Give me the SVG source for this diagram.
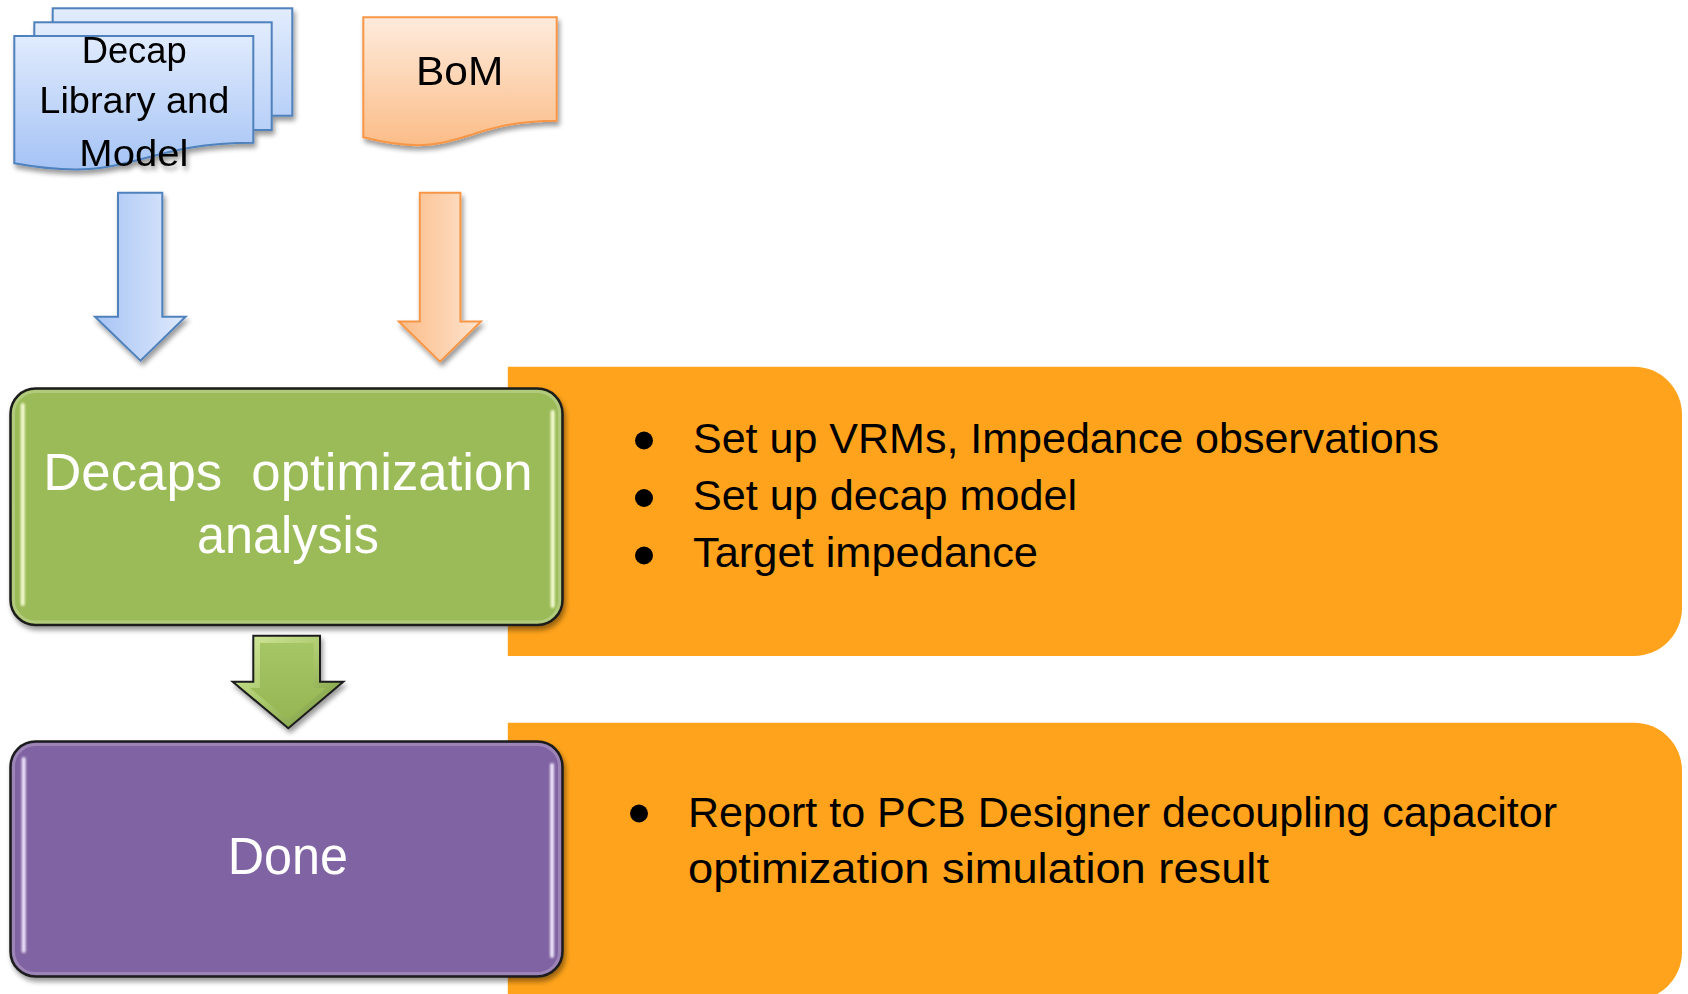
<svg xmlns="http://www.w3.org/2000/svg" width="1688" height="994" viewBox="0 0 1688 994">
  <defs>
    <style>
      .label { font-family: "Liberation Sans", Arial, sans-serif; }
      .dark { fill: #000000; }
      .light { fill: #ffffff; }
      .doc-blue { stroke: #4f81bd; stroke-width: 2; }
      .doc-peach { stroke: #f79646; stroke-width: 2; }
      .panel { fill: #fea31b; }
      .box-edge { stroke: #1b1b1b; stroke-width: 2.5; }
      .rim { fill: none; stroke: #ffffff; stroke-opacity: 0.22; stroke-width: 3; }
    </style>
    <linearGradient id="gBlueFront" x1="0" y1="0" x2="0" y2="1">
      <stop offset="0" stop-color="#e0ebfd"/>
      <stop offset="1" stop-color="#a5c3f5"/>
    </linearGradient>
    <linearGradient id="gBlueBack" x1="0" y1="0" x2="0" y2="1">
      <stop offset="0" stop-color="#e2ecfd"/>
      <stop offset="1" stop-color="#b8d0f8"/>
    </linearGradient>
    <linearGradient id="gPeach" x1="0" y1="0" x2="0" y2="1">
      <stop offset="0" stop-color="#feebdd"/>
      <stop offset="1" stop-color="#fbbd88"/>
    </linearGradient>
    <linearGradient id="gBlueArrow" x1="0" y1="0" x2="1" y2="0">
      <stop offset="0" stop-color="#a7c4f5"/>
      <stop offset="1" stop-color="#dfe9fc"/>
    </linearGradient>
    <linearGradient id="gPeachArrow" x1="0" y1="0" x2="1" y2="0">
      <stop offset="0" stop-color="#fbbc88"/>
      <stop offset="1" stop-color="#fee4cf"/>
    </linearGradient>
    <linearGradient id="gGreenBevel" x1="0" y1="0" x2="1" y2="1">
      <stop offset="0" stop-color="#d6eaa0"/>
      <stop offset="0.5" stop-color="#a9c86a"/>
      <stop offset="1" stop-color="#728f3a"/>
    </linearGradient>
    <linearGradient id="gGreenFace" x1="0" y1="0" x2="0" y2="1">
      <stop offset="0" stop-color="#a6c565"/>
      <stop offset="1" stop-color="#96b654"/>
    </linearGradient>
    <filter id="shadow" x="-10%" y="-10%" width="125%" height="135%">
      <feGaussianBlur in="SourceAlpha" stdDeviation="2.5"/>
      <feOffset dx="1.5" dy="3.5" result="off"/>
      <feComponentTransfer><feFuncA type="linear" slope="0.4"/></feComponentTransfer>
      <feMerge><feMergeNode/><feMergeNode in="SourceGraphic"/></feMerge>
    </filter>
    <filter id="glow" x="-200%" y="-5%" width="500%" height="110%">
      <feGaussianBlur stdDeviation="0.9"/>
    </filter>
  </defs>

  <rect width="1688" height="994" fill="#ffffff"/>

  <!-- task panels sit behind the process boxes -->
  <g id="tasks-optimization">
    <path class="panel" d="M507.8,366.7 H1634 A48,48 0 0 1 1682,414.7 V608 A48,48 0 0 1 1634,656 H507.8 Z"/>
    <circle class="dark" cx="644" cy="440.5" r="9"/>
    <circle class="dark" cx="644" cy="498" r="9"/>
    <circle class="dark" cx="644" cy="555.5" r="9"/>
    <text class="label dark" x="693" y="452.5" font-size="42" textLength="746" lengthAdjust="spacingAndGlyphs">Set up VRMs, Impedance observations</text>
    <text class="label dark" x="693" y="509.5" font-size="42" textLength="384" lengthAdjust="spacingAndGlyphs">Set up decap model</text>
    <text class="label dark" x="693" y="566.7" font-size="42" textLength="345" lengthAdjust="spacingAndGlyphs">Target impedance</text>
  </g>

  <g id="tasks-done">
    <path class="panel" d="M507.8,722.7 H1634 A48,48 0 0 1 1682,770.7 V952 A48,48 0 0 1 1634,1000 H507.8 Z"/>
    <circle class="dark" cx="639" cy="813.5" r="9"/>
    <text class="label dark" x="688" y="827" font-size="42" textLength="869" lengthAdjust="spacingAndGlyphs">Report to PCB Designer decoupling capacitor</text>
    <text class="label dark" x="688" y="883" font-size="42" textLength="581" lengthAdjust="spacingAndGlyphs">optimization simulation result</text>
  </g>

  <!-- input documents -->
  <g id="decap-library" filter="url(#shadow)">
    <rect class="doc-blue" x="52.7" y="8.3" width="239.6" height="107.4" fill="url(#gBlueBack)"/>
    <rect class="doc-blue" x="34.3" y="22.3" width="237.4" height="107.7" fill="url(#gBlueBack)"/>
    <path class="doc-blue" fill="url(#gBlueFront)" d="M14.3,36 H253.3 V142.7 C134,142.7 134,185 14.3,163.3 Z"/>
    <text class="label dark" x="81.7" y="62.7" font-size="36" textLength="105" lengthAdjust="spacingAndGlyphs">Decap</text>
    <text class="label dark" x="39.3" y="112.7" font-size="36" textLength="190" lengthAdjust="spacingAndGlyphs">Library and</text>
    <text class="label dark" x="79.3" y="165.7" font-size="36" textLength="109" lengthAdjust="spacingAndGlyphs">Model</text>
  </g>

  <g id="bom" filter="url(#shadow)">
    <path class="doc-peach" fill="url(#gPeach)" d="M363.3,17.3 H556.7 V120.7 C460,120.7 460,162 363.3,137.3 Z"/>
    <text class="label dark" x="416" y="85" font-size="41" textLength="87.3" lengthAdjust="spacingAndGlyphs">BoM</text>
  </g>

  <!-- process boxes -->
  <g id="optimization">
    <rect class="box-edge" x="10.5" y="388.5" width="552" height="236.5" rx="25" fill="#9bbb59" filter="url(#shadow)"/>
    <rect class="rim" x="13.5" y="391.5" width="546" height="230.5" rx="22"/>
    <rect x="20.7" y="403" width="4" height="203" rx="2" fill="#f4fbd2" filter="url(#glow)"/>
    <rect x="550.7" y="410" width="4" height="198" rx="2" fill="#f4fbd2" filter="url(#glow)"/>
    <text class="label light" x="43.3" y="490" font-size="51" textLength="489.4" lengthAdjust="spacingAndGlyphs" xml:space="preserve">Decaps  optimization</text>
    <text class="label light" x="197" y="553.3" font-size="51" textLength="182" lengthAdjust="spacingAndGlyphs">analysis</text>
  </g>

  <g id="done">
    <rect class="box-edge" x="10.5" y="741.5" width="552" height="235" rx="25" fill="#8064a2" filter="url(#shadow)"/>
    <rect class="rim" x="13.5" y="744.5" width="546" height="229" rx="22"/>
    <rect x="21.7" y="757" width="4" height="196" rx="2" fill="#ece2fa" filter="url(#glow)"/>
    <rect x="550" y="763" width="4" height="195" rx="2" fill="#ece2fa" filter="url(#glow)"/>
    <text class="label light" x="227.7" y="874" font-size="51" textLength="120.3" lengthAdjust="spacingAndGlyphs">Done</text>
  </g>

  <!-- flow arrows -->
  <g id="connectors">
    <path class="doc-blue" fill="url(#gBlueArrow)" filter="url(#shadow)" d="M118,192.7 H162.3 V316.7 H185.6 L140.5,360.7 L95,316.7 H118 Z"/>
    <path class="doc-peach" fill="url(#gPeachArrow)" filter="url(#shadow)" d="M419.8,192.7 H460.4 V321.5 H481 L440,361.7 L398.8,321.5 H419.8 Z"/>
    <g filter="url(#shadow)">
      <path fill="url(#gGreenBevel)" stroke="#1b1b1b" stroke-width="2" stroke-linejoin="miter" d="M253.3,635.7 H320 V681.7 H343.3 L288.3,728.3 L232.7,681.7 H253.3 Z"/>
      <path fill="url(#gGreenFace)" d="M260,643 H313.5 V688 H326 L288.3,719.5 L250,688 H260 Z"/>
    </g>
  </g>
</svg>
